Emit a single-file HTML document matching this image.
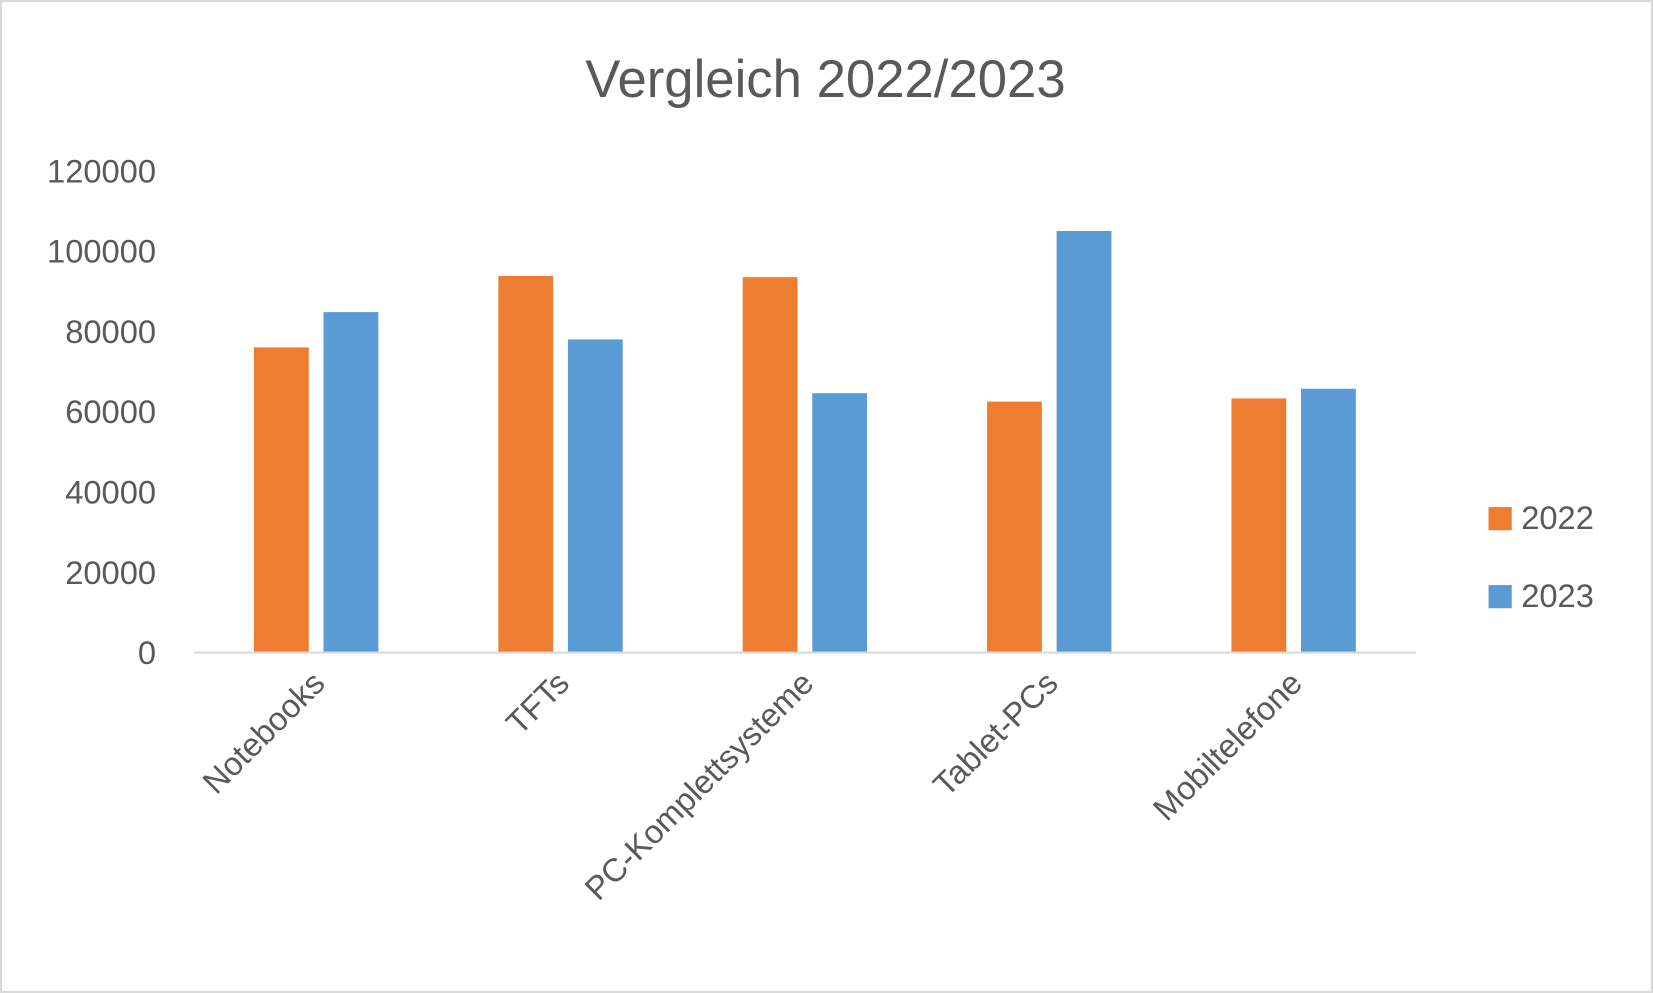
<!DOCTYPE html>
<html><head><meta charset="utf-8"><style>
html,body{margin:0;padding:0;background:#fff;}
svg{display:block;font-family:"Liberation Sans","DejaVu Sans",sans-serif;}
</style></head><body>
<svg id="chart" width="1653" height="993" viewBox="0 0 1568 942" preserveAspectRatio="none" xmlns="http://www.w3.org/2000/svg">
<rect x="1" y="1" width="1566" height="940" fill="#fff" stroke="#d9d9d9" stroke-width="2"/>
<text x="783" y="92" text-anchor="middle" font-size="50" fill="#595959">Vergleich 2022/2023</text>
<g id="grid"></g><g id="bars"></g><g id="xlabels"></g>
<line x1="184" y1="619" x2="1343" y2="619" stroke="#d9d9d9" stroke-width="2"/>
<rect x="1412" y="481" width="22" height="22" fill="#ed7d31"/>
<text x="1443" y="502" font-size="31" fill="#595959">2022</text>
<rect x="1412" y="555" width="22" height="22" fill="#5b9bd5"/>
<text x="1443" y="576" font-size="31" fill="#595959">2023</text>
</svg>
<script>
const categories = ["Notebooks","TFTs","PC-Komplettsysteme","Tablet-PCs","Mobiltelefone"];
const values2022 = [76000, 93800, 93500, 62500, 63300];
const values2023 = [84800, 78000, 64600, 105000, 65700];
const yTicks = [0, 20000, 40000, 60000, 80000, 100000, 120000];
const NS = "http://www.w3.org/2000/svg";
const x0 = 184, x1 = 1343, yBase = 619, yTop = 162, yMax = 120000;
const band = (x1 - x0) / categories.length;
function yScale(v){ return yBase - (v / yMax) * (yBase - yTop); }
function xCenter(i){ return x0 + band * (i + 0.5); }
const grid = document.getElementById('grid');
yTicks.forEach(t => {
  const tx = document.createElementNS(NS,'text');
  
  
  tx.setAttribute('x', 148); tx.setAttribute('y', yScale(t) + 11);
  tx.setAttribute('text-anchor','end'); tx.setAttribute('font-size','31'); tx.setAttribute('fill','#595959');
  tx.textContent = t; grid.appendChild(tx);
});
const bars = document.getElementById('bars');
const bw = 52, gap = 14;
function bar(i, v, off, color, name){
  const r = document.createElementNS(NS,'rect');
  
  
  const x = xCenter(i) + off;
  r.setAttribute('x', x); r.setAttribute('y', yScale(v));
  r.setAttribute('width', bw); r.setAttribute('height', yBase - yScale(v));
  r.setAttribute('fill', color); bars.appendChild(r);
}
categories.forEach((c,i) => {
  bar(i, values2022[i], -bw - gap/2, '#ed7d31', 'bar-2022');
  bar(i, values2023[i], gap/2, '#5b9bd5', 'bar-2023');
});
const xl = document.getElementById('xlabels');
categories.forEach((c,i) => {
  const t = document.createElementNS(NS,'text');
  
  
  const cx = xCenter(i) + 10, cy = 650;
  t.setAttribute('x', cx); t.setAttribute('y', cy);
  t.setAttribute('text-anchor','end'); t.setAttribute('font-size','31'); t.setAttribute('fill','#595959');
  t.setAttribute('transform', 'rotate(-45 ' + cx + ' ' + cy + ')');
  t.textContent = c; xl.appendChild(t);
});
</script>
</body></html>
